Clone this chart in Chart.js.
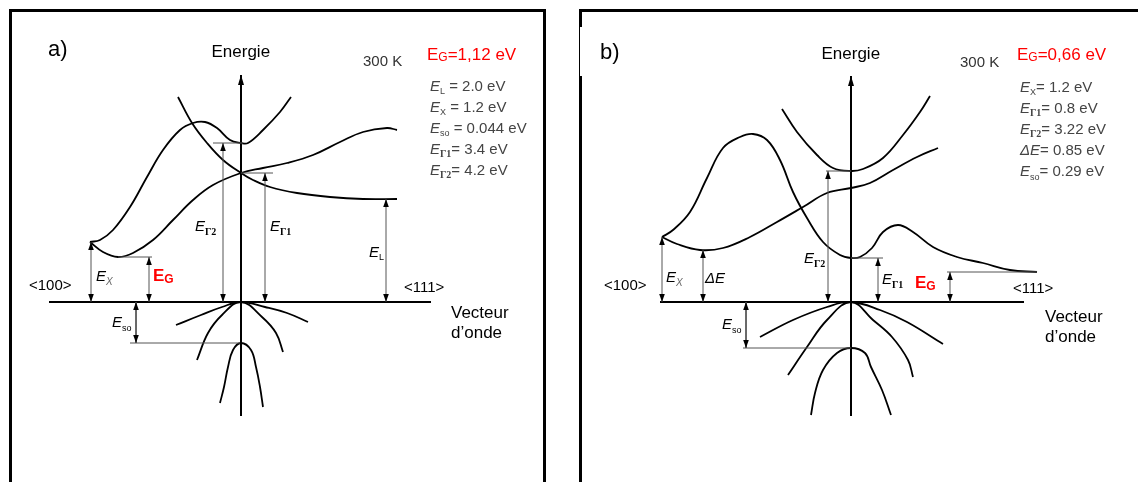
<!DOCTYPE html>
<html>
<head>
<meta charset="utf-8">
<script src="https://cdn.jsdelivr.net/npm/chart.js@4.4.0/dist/chart.umd.min.js"></script>
<style>
    body { margin: 0; background: #fff; }
    #wrap { position: relative; width: 1138px; height: 482px; overflow: hidden; }
    .frame { position: absolute; border: 3px solid #000; box-sizing: border-box; }
    #frame-a { left: 9px; top: 9px; width: 537px; height: 520px; }
    #frame-b { left: 579px; top: 9px; width: 600px; height: 520px; }
    #notch { position: absolute; left: 580px; top: 27px; width: 2px; height: 49px; background: #fff; }
    canvas { position: absolute; top: 0; }
</style>
</head>
<body>
<div id="wrap">
    <div class="frame" id="frame-a"></div>
    <div class="frame" id="frame-b"></div>
    <div id="notch"></div>
    <canvas id="chart-a" width="569" height="482" style="left:0"></canvas>
    <canvas id="chart-b" width="569" height="482" style="left:569px"></canvas>
</div>
<script>
// Units: k = wave vector (Gamma at 0), E = energy above valence band top (schematic units)

// ---- a) Si ----
const siUpperCB = [[-6.3, 20.5], [-4.9, 17.9], [-3.4, 15.9], [-1.8, 14.2], [0, 12.9], [1.2, 12.2], [2.9, 11.5], [5.6, 10.9], [8.9, 10.5], [12.2, 10.3], [15.6, 10.3]];
const siHumpCB = [[-15.1, 6.0], [-14.1, 6.2], [-12.8, 7.2], [-11.1, 9.5], [-9.4, 12.5], [-7.8, 15.2], [-6.1, 17.2], [-4.8, 17.9], [-3.6, 18.0], [-2.4, 17.4], [-1.1, 16.2], [0, 15.9], [0.7, 15.9], [2.2, 17.2], [3.9, 19.0], [5.0, 20.5]];
const siLowerCB = [[-15.1, 6.0], [-13.8, 5.0], [-12.3, 4.5], [-10.8, 4.9], [-8.8, 6.2], [-6.8, 8.2], [-4.8, 10.2], [-2.8, 11.7], [0, 12.9], [2.2, 13.4], [4.6, 13.9], [7.2, 14.7], [9.9, 16.0], [12.2, 17.0], [14.6, 17.4], [15.6, 17.2]];
const siHeavyHole = [[-6.5, -2.3], [-4.0, -1.3], [-1.9, -0.5], [0, 0], [2.4, -0.5], [4.6, -1.1], [6.7, -2.0]];
const siLightHole = [[-4.4, -5.8], [-3.3, -3.1], [-1.9, -1.3], [0, 0], [2.1, -1.5], [3.5, -3.1], [4.2, -5.0]];
const siSplitOff = [[-2.1, -10.1], [-1.7, -8.5], [-1.3, -6.5], [-0.8, -4.8], [0, -4.1], [1.0, -4.8], [1.5, -6.5], [1.9, -8.5], [2.2, -10.5]];
const siArrows = [[-15.0, 0, 6.0], [-9.2, 0, 4.5], [-1.8, 0, 15.9], [2.4, 0, 12.9], [14.5, 0, 10.3], [-10.5, 0, -4.1]]; // k, from, to
const siGuides = [[-12.3, -8.9, 4.5], [-2.8, 0.2, 15.9], [0, 3.2, 12.9], [-11.1, -0.1, -4.1]]; // kStart, kEnd, E
const siAxisV = [-11.4, 22.7];
const siAxisH = [-19.2, 19.0];
const siGap = '1,12 eV';
const siParams = [['E', 'L', ' = 2.0 eV'], ['E', 'X', ' = 1.2 eV'], ['E', 'so', ' = 0.044 eV'], ['E', 'Γ1', '= 3.4 eV'], ['E', 'Γ2', '= 4.2 eV']];

// ---- b) Ge ----
const geUpperCB = [[-6.9, 19.3], [-5.4, 17.0], [-3.4, 14.7], [-1.8, 13.4], [0, 13.1], [1.2, 13.3], [3.2, 14.4], [5.2, 16.7], [6.9, 19.0], [7.9, 20.6]];
const geHumpCB = [[-18.9, 6.5], [-17.8, 7.2], [-16.1, 9.0], [-14.4, 12.4], [-12.8, 15.4], [-11.1, 16.5], [-9.8, 16.8], [-8.4, 16.2], [-7.1, 14.2], [-5.8, 11.0], [-4.4, 8.4], [-2.8, 6.0], [-1.1, 4.7], [0, 4.4], [0.9, 4.5], [2.1, 5.4], [3.2, 7.0], [4.7, 7.7], [6.2, 7.0], [8.2, 5.5], [10.6, 4.5], [13.2, 3.9], [15.9, 3.2], [18.6, 3.0]];
const geLowerCB = [[-18.9, 6.5], [-17.4, 5.8], [-15.1, 5.2], [-12.8, 5.4], [-10.1, 6.5], [-7.4, 8.0], [-4.8, 9.5], [-2.4, 10.9], [0, 11.4], [1.9, 11.9], [4.2, 13.2], [6.6, 14.5], [8.7, 15.4]];
const geHeavyHole = [[-9.1, -3.5], [-5.8, -1.8], [-2.4, -0.5], [0, 0], [2.9, -0.8], [5.6, -2.0], [9.2, -4.2]];
const geLightHole = [[-6.3, -7.3], [-4.4, -4.5], [-2.4, -1.8], [0, 0], [2.2, -1.8], [4.1, -3.5], [5.7, -5.8], [6.2, -7.5]];
const geSplitOff = [[-4.0, -11.3], [-3.6, -9.1], [-2.8, -6.8], [-1.4, -5.1], [0, -4.6], [1.4, -5.1], [2.0, -6.5], [3.1, -8.8], [4.0, -11.3]];
const geArrows = [[-18.9, 0, 6.5], [-14.8, 0, 5.2], [-2.3, 0, 13.1], [2.7, 0, 4.4], [9.9, 0, 3.0], [-10.5, 0, -4.6]];
const geGuides = [[-2.5, 0, 13.1], [0, 3.2, 4.4], [9.6, 18.6, 3.0], [-10.8, 0, -4.6]];
const geAxisV = [-11.4, 22.6];
const geAxisH = [-19.1, 17.3];
const geGap = '0,66 eV';
const geParams = [['E', 'X', '= 1.2 eV'], ['E', 'Γ1', '= 0.8 eV'], ['E', 'Γ2', '= 3.22 eV'], ['ΔE', '', '= 0.85 eV'], ['E', 'so', '= 0.29 eV']];

// Fonts
const FONT = '"Liberation Sans", Arial, sans-serif';
const GRAY = '#444';

const toXY = pts => pts.map(([k, E]) => ({ x: k, y: E }));

// Draw text made of several runs (main letter, subscript, rest)
function drawSegs(ctx, x, y, segs) {
    ctx.save();
    ctx.textBaseline = 'middle';
    ctx.textAlign = 'left';
    let cx = x;
    segs.forEach(([t, font, dy, color]) => {
        ctx.font = font;
        ctx.fillStyle = color || '#000';
        ctx.fillText(t, cx, y + (dy || 0));
        cx += ctx.measureText(t).width;
    });
    ctx.restore();
}

function drawHead(ctx, from, to, len, half) {
    const a = Math.atan2(to.y - from.y, to.x - from.x);
    ctx.save();
    ctx.fillStyle = '#000';
    ctx.beginPath();
    ctx.moveTo(to.x, to.y);
    ctx.lineTo(to.x - len * Math.cos(a) + half * Math.sin(a), to.y - len * Math.sin(a) - half * Math.cos(a));
    ctx.lineTo(to.x - len * Math.cos(a) - half * Math.sin(a), to.y - len * Math.sin(a) + half * Math.cos(a));
    ctx.closePath();
    ctx.fill();
    ctx.restore();
}

const decorPlugin = {
    id: 'decor',
    afterDatasetsDraw(chart, args, opts) {
        const ctx = chart.ctx;
        const xs = chart.scales.x, ys = chart.scales.y;
        chart.data.datasets.forEach((ds, i) => {
            if (!ds.heads) return;
            const pts = chart.getDatasetMeta(i).data;
            ds.heads.forEach(idx => {
                const other = idx === 0 ? pts[1] : pts[0];
                drawHead(ctx, other, pts[idx], ds.headLen, ds.headHalf);
            });
        });
        opts.labels.forEach(l => drawSegs(ctx, xs.getPixelForValue(l.k), ys.getPixelForValue(l.E), l.segs));
    }
};

// Symbol E with subscript
function sym(main, sub, opts = {}) {
    const size = opts.size || 15;
    const color = opts.color || '#000';
    const mainFont = opts.mainFont || `italic ${size}px ${FONT}`;
    let subFont = opts.subFont || `italic 10px ${FONT}`;
    if (sub.startsWith('Γ')) subFont = `bold 10px "Liberation Serif", serif`;
    const segs = [[main, mainFont, 0, color]];
    if (sub) segs.push([sub, subFont, opts.subDy || 5, opts.subColor || color]);
    return segs;
}

function paramLabels(params, k, E0, step) {
    return params.map(([main, sub, rest], i) => ({
        k: k, E: E0 - i * step,
        segs: [...sym(main, sub, { size: 15, color: GRAY, subFont: `9px ${FONT}`, subDy: 5 }), [rest, `15px ${FONT}`, 0, GRAY]]
    }));
}

function buildChart(canvasId, xRange, bands, arrows, guides, axisV, axisH, labels) {
    const datasets = [];
    guides.forEach(([k0, k1, E]) => datasets.push({
        data: toXY([[k0, E], [k1, E]]), borderColor: '#555', borderWidth: 1, pointRadius: 0, tension: 0
    }));
    arrows.forEach(([k, E0, E1]) => datasets.push({
        data: toXY([[k, E0], [k, E1]]), borderColor: '#555', borderWidth: 1, pointRadius: 0, tension: 0,
        heads: [0, 1], headLen: 8, headHalf: 2.8
    }));
    bands.forEach(b => datasets.push({
        data: toXY(b), borderColor: '#000', borderWidth: 1.8, pointRadius: 0, tension: 0.4
    }));
    datasets.push({
        data: toXY([[0, axisV[0]], [0, axisV[1]]]), borderColor: '#000', borderWidth: 2, pointRadius: 0,
        heads: [1], headLen: 10, headHalf: 3
    });
    datasets.push({
        data: toXY([[axisH[0], 0], [axisH[1], 0]]), borderColor: '#000', borderWidth: 2, pointRadius: 0
    });

    return new Chart(document.getElementById(canvasId), {
        type: 'line',
        data: { datasets },
        plugins: [decorPlugin],
        options: {
            responsive: false,
            animation: false,
            devicePixelRatio: 1,
            events: [],
            layout: { padding: 0 },
            plugins: {
                legend: { display: false },
                tooltip: { enabled: false },
                decor: { labels }
            },
            scales: {
                x: { type: 'linear', min: xRange[0], max: xRange[1], display: false },
                y: { type: 'linear', min: -18.0, max: 30.2, display: false }
            }
        }
    });
}

const redGap = gap => [['E', `17px ${FONT}`, 0, '#f00'], ['G', `12px ${FONT}`, 3, '#f00'], ['=' + gap, `17px ${FONT}`, 0, '#f00']];
const redEG = [['E', `bold 17px ${FONT}`, 0, '#f00'], ['G', `bold 12px ${FONT}`, 4, '#f00']];

const siLabels = [
    { k: -19.3, E: 25.2, segs: [['a)', `22px ${FONT}`, 0]] },
    { k: -2.95, E: 25.0, segs: [['Energie', `17px ${FONT}`, 0]] },
    { k: 12.2, E: 24.0, segs: [['300 K', `15px ${FONT}`, 0, '#333']] },
    { k: 18.6, E: 24.7, segs: redGap(siGap) },
    ...paramLabels(siParams, 18.9, 21.55, 2.1),
    { k: -14.5, E: 2.5, segs: sym('E', 'X', { subColor: '#666' }) },
    { k: -8.8, E: 2.6, segs: redEG },
    { k: -4.6, E: 7.5, segs: sym('E', 'Γ2') },
    { k: 2.9, E: 7.5, segs: sym('E', 'Γ1') },
    { k: 12.8, E: 4.9, segs: sym('E', 'L', { subFont: `9px ${FONT}` }) },
    { k: -12.9, E: -2.1, segs: sym('E', 'so', { subFont: `9px ${FONT}`, subDy: 6 }) },
    { k: -21.2, E: 1.6, segs: [['<100>', `15px ${FONT}`, 0]] },
    { k: 16.3, E: 1.4, segs: [['<111>', `15px ${FONT}`, 0]] },
    { k: 21.0, E: -1.1, segs: [['Vecteur', `17px ${FONT}`, 0]] },
    { k: 21.0, E: -3.1, segs: [['d\u2019onde', `17px ${FONT}`, 0]] }
];

const geLabels = [
    { k: -25.1, E: 24.9, segs: [['b)', `22px ${FONT}`, 0]] },
    { k: -2.95, E: 24.8, segs: [['Energie', `17px ${FONT}`, 0]] },
    { k: 10.9, E: 23.9, segs: [['300 K', `15px ${FONT}`, 0, '#333']] },
    { k: 16.6, E: 24.7, segs: redGap(geGap) },
    ...paramLabels(geParams, 16.9, 21.45, 2.12),
    { k: -18.5, E: 2.4, segs: sym('E', 'X', { subColor: '#666' }) },
    { k: -14.6, E: 2.3, segs: [['ΔE', `italic 15px ${FONT}`, 0]] },
    { k: -4.7, E: 4.3, segs: sym('E', 'Γ2') },
    { k: 3.1, E: 2.2, segs: sym('E', 'Γ1') },
    { k: 6.4, E: 1.9, segs: redEG },
    { k: -12.9, E: -2.3, segs: sym('E', 'so', { subFont: `9px ${FONT}`, subDy: 6 }) },
    { k: -24.7, E: 1.6, segs: [['<100>', `15px ${FONT}`, 0]] },
    { k: 16.2, E: 1.3, segs: [['<111>', `15px ${FONT}`, 0]] },
    { k: 19.4, E: -1.5, segs: [['Vecteur', `17px ${FONT}`, 0]] },
    { k: 19.4, E: -3.5, segs: [['d\u2019onde', `17px ${FONT}`, 0]] }
];

buildChart('chart-a', [-24.1, 32.8],
    [siUpperCB, siHumpCB, siLowerCB, siHeavyHole, siLightHole, siSplitOff],
    siArrows, siGuides, siAxisV, siAxisH, siLabels);

buildChart('chart-b', [-28.2, 28.7],
    [geUpperCB, geHumpCB, geLowerCB, geHeavyHole, geLightHole, geSplitOff],
    geArrows, geGuides, geAxisV, geAxisH, geLabels);
</script>
</body>
</html>
